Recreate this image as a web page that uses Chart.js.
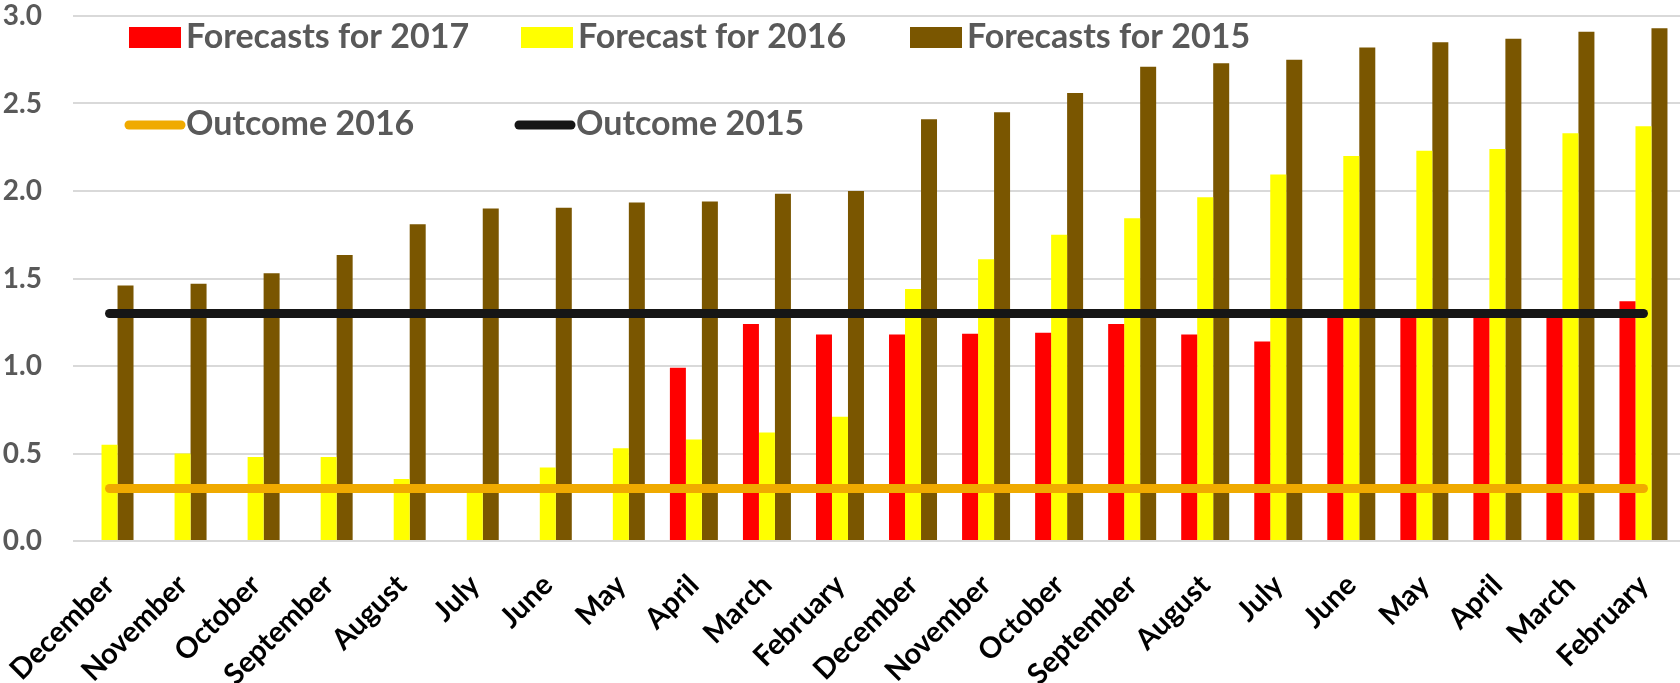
<!DOCTYPE html>
<html>
<head>
<meta charset="utf-8">
<title>Forecasts and outcomes</title>
<script src="https://cdn.jsdelivr.net/npm/chart.js@4.4.1/dist/chart.umd.min.js"></script>
<style>
  html, body { margin: 0; padding: 0; background: #ffffff; overflow: hidden; }
  #wrap { width: 1680px; height: 683px; position: relative; }
</style>
</head>
<body>
<div id="wrap"><canvas id="chart" width="1680" height="683"></canvas></div>
<script>
// Month of each forecast vintage
const months = [
  'December', 'November', 'October', 'September', 'August', 'July', 'June', 'May',
  'April', 'March', 'February', 'December', 'November', 'October', 'September',
  'August', 'July', 'June', 'May', 'April', 'March', 'February'
];

const forecasts2017 = [
  null, null, null, null, null, null, null, null,
  0.99, 1.24, 1.18, 1.18, 1.185, 1.19, 1.24, 1.18, 1.14, 1.30, 1.30, 1.30, 1.30, 1.37
];

const forecast2016 = [
  0.55, 0.50, 0.48, 0.48, 0.355, 0.30, 0.42, 0.53, 0.58, 0.62, 0.71,
  1.44, 1.61, 1.75, 1.845, 1.965, 2.095, 2.20, 2.23, 2.24, 2.33, 2.37
];

const forecasts2015 = [
  1.46, 1.47, 1.53, 1.635, 1.81, 1.90, 1.905, 1.935, 1.94, 1.985, 2.00,
  2.41, 2.45, 2.56, 2.71, 2.73, 2.75, 2.82, 2.85, 2.87, 2.91, 2.93
];

const outcome2016 = [
  0.3, 0.3, 0.3, 0.3, 0.3, 0.3, 0.3, 0.3, 0.3, 0.3, 0.3,
  0.3, 0.3, 0.3, 0.3, 0.3, 0.3, 0.3, 0.3, 0.3, 0.3, 0.3
];

const outcome2015 = [
  1.3, 1.3, 1.3, 1.3, 1.3, 1.3, 1.3, 1.3, 1.3, 1.3, 1.3,
  1.3, 1.3, 1.3, 1.3, 1.3, 1.3, 1.3, 1.3, 1.3, 1.3, 1.3
];

const yTickLabels = ['0.0', '0.5', '1.0', '1.5', '2.0', '2.5', '3.0'];

const FONT = 'Lato, "Open Sans", sans-serif';

// Legend drawn inside the plot area, on two rows
const insideLegend = {
  id: 'insideLegend',
  afterDraw(chart) {
    const ctx = chart.ctx;
    const slots = [
      { ds: 0, x: 129, row: 0 },
      { ds: 1, x: 521, row: 0 },
      { ds: 2, x: 910, row: 0 },
      { ds: 3, x: 129, row: 1 },
      { ds: 4, x: 519, row: 1 }
    ];
    const rows = [{ mid: 37.5, base: 48 }, { mid: 125, base: 135 }];
    ctx.save();
    ctx.font = 'bold 34px ' + FONT;
    ctx.textBaseline = 'alphabetic';
    ctx.textAlign = 'left';
    slots.forEach(s => {
      const d = chart.data.datasets[s.ds];
      const r = rows[s.row];
      if (d.type === 'line') {
        ctx.strokeStyle = d.borderColor;
        ctx.lineWidth = 9;
        ctx.lineCap = 'round';
        ctx.beginPath();
        ctx.moveTo(s.x, r.mid);
        ctx.lineTo(s.x + 52, r.mid);
        ctx.stroke();
      } else {
        ctx.fillStyle = d.backgroundColor;
        ctx.fillRect(s.x, r.mid - 10.5, 52, 21);
      }
      ctx.fillStyle = '#595959';
      ctx.fillText(d.label, s.x + 57, r.base);
    });
    ctx.restore();
  }
};

new Chart(document.getElementById('chart'), {
  type: 'bar',
  data: {
    labels: months,
    datasets: [
      { label: 'Forecasts for 2017', data: forecasts2017, backgroundColor: '#ff0000', order: 2 },
      { label: 'Forecast for 2016', data: forecast2016, backgroundColor: '#ffff00', order: 2 },
      { label: 'Forecasts for 2015', data: forecasts2015, backgroundColor: '#7a5600', order: 2 },
      { type: 'line', label: 'Outcome 2016', data: outcome2016, borderColor: '#f0aa00',
        backgroundColor: '#f0aa00', borderWidth: 9, borderCapStyle: 'round', pointRadius: 0, order: 1 },
      { type: 'line', label: 'Outcome 2015', data: outcome2015, borderColor: '#161616',
        backgroundColor: '#161616', borderWidth: 9, borderCapStyle: 'round', pointRadius: 0, order: 1 }
    ]
  },
  options: {
    responsive: false,
    animation: false,
    layout: { padding: { top: 16, left: 0, right: 0, bottom: 0 } },
    datasets: { bar: { categoryPercentage: 0.657, barPercentage: 1.0 } },
    plugins: { legend: { display: false }, tooltip: { enabled: false } },
    scales: {
      x: {
        grid: { display: false, drawTicks: false },
        border: { display: false },
        ticks: {
          autoSkip: false, minRotation: 45, maxRotation: 45, padding: 27,
          color: '#000000', font: { family: FONT, weight: 'bold', size: 29 }
        },
        afterFit(scale) {
          scale.height = 142;
          scale.paddingLeft = 0;
          scale.paddingRight = 0;
          scale.paddingTop = 0;
          scale.paddingBottom = 0;
        }
      },
      y: {
        min: 0, max: 3,
        grid: { color: '#d9d9d9', lineWidth: 2, drawTicks: false },
        border: { display: false },
        ticks: {
          stepSize: 0.5, padding: 31, color: '#595959',
          font: { family: FONT, weight: 'bold', size: 28 },
          callback: (v, i) => yTickLabels[i]
        },
        afterFit(scale) {
          scale.width = 73;
          scale.paddingTop = 0;
          scale.paddingBottom = 0;
        }
      }
    }
  },
  plugins: [insideLegend]
});
</script>
</body>
</html>
